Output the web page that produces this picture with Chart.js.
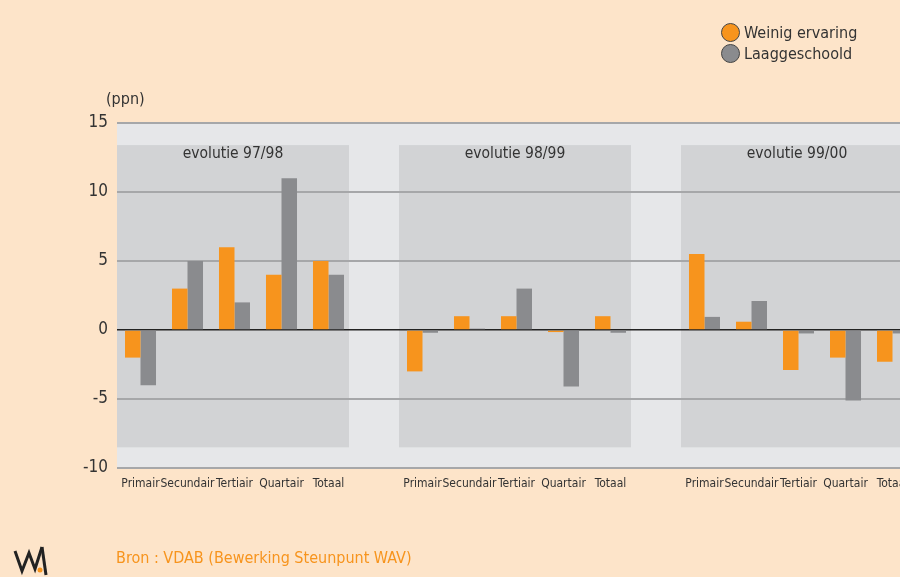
<!DOCTYPE html>
<html lang="nl">
<head>
<meta charset="UTF-8">
<title>Evolutie weinig ervaring / laaggeschoold</title>
<script src="https://cdn.jsdelivr.net/npm/chart.js"></script>
<style>
    html, body {
        margin: 0;
        padding: 0;
        width: 900px;
        height: 577px;
        overflow: hidden;
        background: #fde4c9;
        font-family: 'Liberation Sans Narrow', 'DejaVu Sans Condensed', sans-serif;
        color: #333;
    }
    #wrap { position: absolute; left: 0; top: 0; width: 916px; height: 577px; }
    .legend { position: absolute; left: 721px; top: 22px; font-size: 16px; line-height: 21px; }
    .legend div { position: relative; padding-left: 23px; }
    .legend span {
        position: absolute; left: 0; top: 1px;
        width: 17px; height: 17px; border-radius: 50%;
        border: 1px solid #444;
    }
    .unit { position: absolute; left: 106px; top: 89px; font-size: 16px; }
    .bron { position: absolute; left: 116px; top: 548px; font-size: 16px; color: #f7941d; }
    .logo { position: absolute; left: 13px; top: 543px; }
</style>
</head>
<body>
<div id="wrap"><canvas id="chart" width="916" height="577"></canvas></div>
<div class="unit">(ppn)</div>
<div class="legend">
    <div><span style="background:#f7941d"></span>Weinig ervaring</div>
    <div><span style="background:#8a8b8e"></span>Laaggeschoold</div>
</div>
<svg class="logo" width="40" height="34" viewBox="0 0 40 34">
    <path d="M2 8 L9 28 L16 10 L22 26 L29 4" fill="none" stroke="#222" stroke-width="3"/>
    <path d="M29 4 L33 32" fill="none" stroke="#222" stroke-width="3"/>
    <circle cx="27" cy="27" r="2.5" fill="#f7941d"/>
</svg>
<div class="bron">Bron : VDAB (Bewerking Steunpunt WAV)</div>

<script>
const sectors = ['Primair', 'Secundair', 'Tertiair', 'Quartair', 'Totaal'];
const periods = ['evolutie 97/98', 'evolutie 98/99', 'evolutie 99/00'];
const weinigErvaring = [
    [-2, 3, 6, 4, 5],
    [-3, 1, 1, -0.15, 1],
    [5.5, 0.6, -2.9, -2, -2.3]
];
const laaggeschoold = [
    [-4, 5, 2, 11, 4],
    [-0.2, 0.1, 3, -4.1, -0.2],
    [0.95, 2.1, -0.25, -5.1, -0.25]
];
const yMin = -10, yMax = 15, yStep = 5;
const panelTop = 13.4, panelBottom = -8.5;

// one empty category between the periods
const labels = [], orange = [], grey = [];
periods.forEach((p, g) => {
    if (g > 0) { labels.push(''); orange.push(null); grey.push(null); }
    sectors.forEach((s, i) => {
        labels.push(s);
        orange.push(weinigErvaring[g][i]);
        grey.push(laaggeschoold[g][i]);
    });
});

const FONT = "'Liberation Sans Narrow', 'DejaVu Sans Condensed', sans-serif";

const panels = {
    id: 'panels',
    beforeDraw(chart) {
        const { ctx, chartArea: a, scales: { x, y } } = chart;
        ctx.save();
        ctx.fillStyle = '#e6e7e9';
        ctx.fillRect(a.left, a.top, a.right - a.left, a.bottom - a.top);
        const half = (x.getPixelForValue(1) - x.getPixelForValue(0)) / 2;
        periods.forEach((p, g) => {
            const first = g * (sectors.length + 1);
            const last = first + sectors.length - 1;
            const l = x.getPixelForValue(first) - half;
            const r = x.getPixelForValue(last) + half - 3;
            const t = y.getPixelForValue(panelTop);
            const b = y.getPixelForValue(panelBottom);
            ctx.fillStyle = '#d2d3d5';
            ctx.fillRect(l, t, r - l, b - t);
            ctx.fillStyle = '#333';
            ctx.font = '15.5px ' + FONT;
            ctx.textAlign = 'center';
            ctx.textBaseline = 'middle';
            ctx.fillText(p, (l + r) / 2, t + 9);
        });
        ctx.restore();
    }
};

new Chart(document.getElementById('chart'), {
    type: 'bar',
    data: {
        labels: labels,
        datasets: [
            { label: 'Weinig ervaring', data: orange, backgroundColor: '#f7941d' },
            { label: 'Laaggeschoold', data: grey, backgroundColor: '#8a8b8e' }
        ]
    },
    options: {
        responsive: false,
        animation: false,
        layout: { padding: { top: 123, left: 0, right: 0, bottom: 0 } },
        datasets: { bar: { categoryPercentage: 0.66, barPercentage: 1 } },
        plugins: { legend: { display: false }, tooltip: { enabled: false } },
        scales: {
            x: {
                grid: { display: false },
                border: { display: false },
                ticks: {
                    color: '#333', padding: 1, maxRotation: 0, autoSkip: false,
                    font: { family: FONT, size: 12 }
                },
                afterFit(s) { s.height = 109; }
            },
            y: {
                min: yMin, max: yMax,
                grid: {
                    drawTicks: false,
                    color: c => c.tick.value === 0 ? '#222' : '#a6a7a9',
                    lineWidth: c => c.tick.value === 0 ? 1.5 : 2
                },
                border: { display: false },
                ticks: {
                    stepSize: yStep, color: '#333', padding: 9,
                    font: { family: FONT, size: 17 }
                },
                afterFit(s) { s.width = 117; }
            }
        }
    },
    plugins: [panels]
});
</script>
</body>
</html>
